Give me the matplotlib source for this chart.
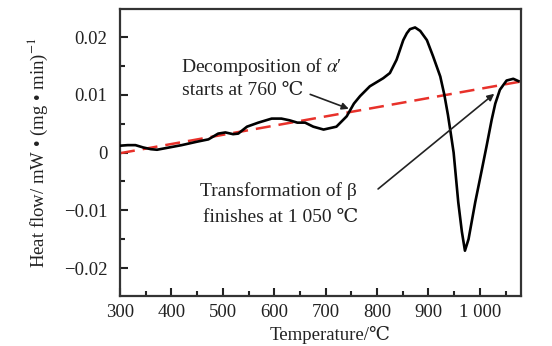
import matplotlib
matplotlib.use('Agg')
import matplotlib.pyplot as plt
from matplotlib.ticker import MultipleLocator, FixedLocator

plt.rcParams['font.family'] = ['Liberation Serif', 'DejaVu Serif', 'DejaVu Sans', 'Noto Sans CJK SC']
plt.rcParams['mathtext.fontset'] = 'stix'

# DSC curve (temperature in °C, heat flow in mW/(mg·min))
temperature = [300, 315, 330, 345, 360, 372, 390, 420, 450, 472, 491, 505, 520, 530, 547,
               569, 595, 614, 630, 645, 660, 676, 696, 721, 741, 755, 767, 786, 812, 825,
               838, 851, 858, 864, 874, 884, 897, 909, 923, 931, 938, 944, 949, 958, 965,
               971, 978, 991, 1004, 1013, 1023, 1030, 1039, 1052, 1065, 1075]
heat_flow = [0.0012, 0.0013, 0.0013, 0.0009, 0.0006, 0.0005, 0.0008, 0.0013, 0.0019, 0.0023,
             0.0033, 0.0035, 0.0032, 0.0033, 0.0045,
             0.0052, 0.0059, 0.0059, 0.0056, 0.0052, 0.0052, 0.0045, 0.0040, 0.0045, 0.0063,
             0.0085, 0.0098, 0.0115, 0.0129, 0.0138,
             0.0161, 0.0195, 0.0207, 0.0214, 0.0217, 0.0211, 0.0195, 0.0167, 0.0132, 0.0100,
             0.0065, 0.0030, 0.0000, -0.0086, -0.0137,
             -0.0170, -0.0150, -0.0086, -0.0029, 0.0011, 0.0057, 0.0085, 0.0109, 0.0125, 0.0128,
             0.0124]

# baseline (red dashed)
baseline_t = [300, 1078]
baseline_v = [-0.0001, 0.0123]

x_ticks = [300, 400, 500, 600, 700, 800, 900, 1000]
x_ticklabels = ['300', '400', '500', '600', '700', '800', '900', '1 000']
y_ticks = [0.02, 0.01, 0.0, -0.01, -0.02]
y_ticklabels = ['0.02', '0.01', '0', '\u22120.01', '\u22120.02']

fig = plt.figure(figsize=(5.52, 3.46), dpi=100)
ax = fig.add_axes([0.2174, 0.1454, 0.7264, 0.8286])

ax.plot(baseline_t, baseline_v, color='#e8312a', lw=1.8, dashes=(6, 3.2), zorder=2)
ax.plot(temperature, heat_flow, color='black', lw=1.9, solid_joinstyle='round', zorder=3)

ax.set_xlim(300, 1080)
ax.set_ylim(-0.0248, 0.0249)
ax.xaxis.set_major_locator(FixedLocator(x_ticks))
ax.set_xticklabels(x_ticklabels)
ax.xaxis.set_minor_locator(MultipleLocator(50))
ax.yaxis.set_major_locator(FixedLocator(y_ticks))
ax.set_yticklabels(y_ticklabels)
ax.yaxis.set_minor_locator(MultipleLocator(0.005))

ax.tick_params(which='major', direction='in', length=6, width=1.5, labelsize=13.5, colors='#222222')
ax.tick_params(axis='y', which='major', pad=9)
ax.tick_params(axis='x', which='major', pad=6)
ax.tick_params(which='minor', direction='in', length=3.5, width=1.5, colors='#222222')
ax.tick_params(top=False, right=False, which='both')
for s in ax.spines.values():
    s.set_linewidth(1.6)
    s.set_color('#333333')

ax.set_xlabel('Temperature/\u2103', fontsize=13.5, color='#222222')
ax.xaxis.set_label_coords(0.524, -0.105)
ax.set_ylabel('Heat flow/ mW \u2022 (mg \u2022 min)$^{-1}$', fontsize=13.5, color='#222222')
ax.yaxis.set_label_coords(-0.175, 0.5)

txtc = '#222222'
fs = 14
ax.text(419, 0.0149, "Decomposition of $\\alpha$\u2032", fontsize=fs, color=txtc, va='center', ha='left')
ax.text(421, 0.0108, 'starts at 760 \u2103', fontsize=fs, color=txtc, va='center', ha='left')
ax.annotate('', xy=(745, 0.0076), xytext=(670, 0.0101),
            arrowprops=dict(arrowstyle='-|>', color='#222222', lw=1.2, mutation_scale=10,
                            shrinkA=0, shrinkB=0))

ax.text(455, -0.0067, 'Transformation of \u03b2', fontsize=fs, color=txtc, va='center', ha='left')
ax.text(461, -0.0112, 'finishes at 1 050 \u2103', fontsize=fs, color=txtc, va='center', ha='left')
ax.annotate('', xy=(1028, 0.0102), xytext=(802, -0.0063),
            arrowprops=dict(arrowstyle='-|>', color='#222222', lw=1.2, mutation_scale=10,
                            shrinkA=0, shrinkB=0))

fig.savefig('out.png', dpi=100)
